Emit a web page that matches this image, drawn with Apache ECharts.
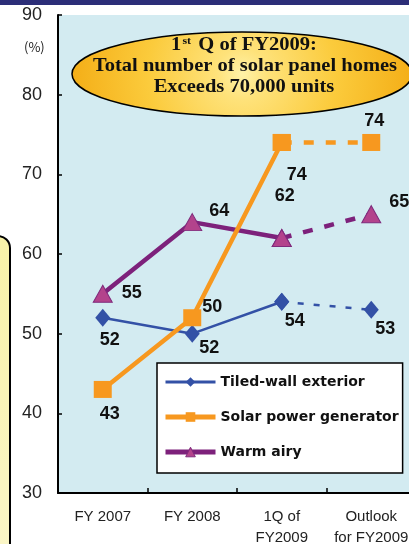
<!DOCTYPE html>
<html><head><meta charset="utf-8">
<script src="https://cdn.jsdelivr.net/npm/echarts@6/dist/echarts.min.js"></script>
<style>html,body{margin:0;padding:0;background:#fff;}#c{width:409px;height:544px;}</style>
</head><body><div id="c"></div>
<script>
const categories = ['FY 2007', 'FY 2008', '1Q of\nFY2009', 'Outlook\nfor FY2009'];
const seriesNames = ['Tiled-wall exterior', 'Solar power generator', 'Warm airy'];
const tiledWall = [52, 50, 54, 53];
const solarPower = [43, 52, 74, 74];
const warmAiry = [55, 64, 62, 65];
const tiledWallLabels = ['52', '52', '54', '53'];
const solarPowerLabels = ['43', '50', '74', '74'];
const warmAiryLabels = ['55', '64', '62', '65'];
const yMin = 30, yMax = 90, yStep = 10;

// label offsets (px) relative to each point
const offTiled = [[7, 22], [17, 14], [13, 19], [14, 19]];
const offSolar = [[7, 25], [20, -11], [15, 33], [3, -21]];
const offWarm = [[29, -1], [27, -11], [3, -42], [28, -12]];

const styles = {};
styles[seriesNames[0]] = { symbol: 'diamond', size: [15, 18], fill: '#3351a6', border: '#3351a6', bw: 0, line: '#3351a6', lw: 2.5, dash: [6, 10], z: 2, legW: 3 };
styles[seriesNames[2]] = { symbol: 'triangle', size: [19, 17], fill: '#b3438c', border: '#7f2a7c', bw: 1, line: '#7d217b', lw: 4.5, dash: [10, 12], z: 3, legW: 5 };
styles[seriesNames[1]] = { symbol: 'rect', size: [18, 17], fill: '#f7981f', border: '#f7981f', bw: 0, line: '#f7981f', lw: 4.5, dash: [10, 12], z: 4, legW: 5 };

function build(name, vals, labels, offs) {
  const st = styles[name];
  const lbl = (i) => ({ show: true, position: 'inside', offset: offs[i], formatter: labels[i],
    fontSize: 18, fontWeight: 'bold', fontFamily: 'Liberation Sans, Arial', color: '#111' });
  const solid = vals.map((v, i) => i <= 2 ? { value: v, label: lbl(i) } : '-');
  const dashed = vals.map((v, i) => i >= 2 ? { value: v, label: i === 3 ? lbl(i) : { show: false } } : '-');
  const common = {
    type: 'line', name: name, symbol: st.symbol, symbolSize: st.size,
    itemStyle: { color: st.fill, borderColor: st.border, borderWidth: st.bw },
    z: st.z, animation: false, connectNulls: false
  };
  return [
    Object.assign({}, common, { data: solid, lineStyle: { color: st.line, width: st.lw, type: 'solid' } }),
    Object.assign({}, common, { data: dashed, lineStyle: { color: st.line, width: st.lw, type: st.dash } })
  ];
}

const series = [].concat(
  build(seriesNames[0], tiledWall, tiledWallLabels, offTiled),
  build(seriesNames[2], warmAiry, warmAiryLabels, offWarm),
  build(seriesNames[1], solarPower, solarPowerLabels, offSolar)
);

const legendData = seriesNames.map(n => ({
  name: n,
  lineStyle: { width: styles[n].legW, color: styles[n].line, type: 'solid' },
  itemStyle: { color: styles[n].fill, borderColor: styles[n].border, borderWidth: styles[n].bw }
}));

const serif = 'Liberation Serif, Times New Roman';
const chart = echarts.init(document.getElementById('c'), null, { renderer: 'canvas' });
chart.setOption({
  animation: false,
  backgroundColor: '#ffffff',
  grid: { left: 58, top: 15, right: -7, bottom: 51, outerBoundsMode: 'none', show: true, backgroundColor: '#d3ebf1', borderWidth: 0, containLabel: false },
  xAxis: {
    type: 'category', data: categories, boundaryGap: true,
    axisLine: { show: true, lineStyle: { color: '#000', width: 2 } },
    axisTick: { show: true, inside: true, length: 5, lineStyle: { color: '#000', width: 1.5 } },
    axisLabel: { interval: 0, fontSize: 15, color: '#222', lineHeight: 21, margin: 13, fontFamily: 'Liberation Sans, Arial' }
  },
  yAxis: {
    type: 'value', min: yMin, max: yMax, interval: yStep,
    axisLine: { show: true, lineStyle: { color: '#000', width: 2 } },
    axisTick: { show: true, inside: true, length: 4, lineStyle: { color: '#000', width: 1.5 } },
    splitLine: { show: false },
    axisLabel: { fontSize: 18, color: '#222', margin: 16, fontFamily: 'Liberation Sans, Arial' }
  },
  legend: {
    data: legendData,
    orient: 'vertical', left: 157, top: 363,
    backgroundColor: '#ffffff', borderColor: '#000', borderWidth: 1.5,
    padding: [12, 4, 14, 6], itemGap: 21, itemWidth: 50, itemHeight: 12,
    textStyle: { fontSize: 14, fontWeight: 'bold', color: '#111', fontFamily: 'DejaVu Sans' }
  },
  graphic: [
    { type: 'rect', shape: { x: 0, y: 0, width: 409, height: 5 }, style: { fill: '#2c2e78' }, z: 10 },
    { type: 'rect', shape: { x: -30, y: 236, width: 40, height: 400, r: 12 },
      style: { fill: new echarts.graphic.LinearGradient(0, 0, 0, 1, [{ offset: 0, color: '#f8f2a8' }, { offset: 1, color: '#fbf7cf' }]), stroke: '#000', lineWidth: 2 }, z: 10 },
    { type: 'text', left: 24, top: 41, style: { text: '(%)', fontSize: 13, fill: '#222', fontFamily: 'Noto Sans CJK JP' }, z: 10 },
    { type: 'ellipse', shape: { cx: 242, cy: 74, rx: 170, ry: 42 },
      style: { fill: new echarts.graphic.RadialGradient(0.5, 0.5, 2, [{ offset: 0, color: '#fff2a8' }, { offset: 0.15, color: '#fee27a' }, { offset: 0.55, color: '#fbcb3c' }, { offset: 1, color: '#f4ae17' }]), stroke: '#000', lineWidth: 1.5 }, z: 20 },
    { type: 'text', x: 244, y: 45.5, z: 21, scaleX: 1.08,
      style: { text: '{a|1}{s|st}{a| Q of FY2009:}', align: 'center', verticalAlign: 'middle',
        rich: { a: { fontSize: 19, fontWeight: 'bold', fontFamily: serif, fill: '#111' },
                s: { fontSize: 11, fontWeight: 'bold', fontFamily: serif, fill: '#111', verticalAlign: 'top', padding: [0, 2, 8, 1] } } } },
    { type: 'text', x: 245, y: 66, z: 21, scaleX: 1.08,
      style: { text: 'Total number of solar panel homes', align: 'center', verticalAlign: 'middle', fontSize: 19, fontWeight: 'bold', fontFamily: serif, fill: '#111' } },
    { type: 'text', x: 244, y: 87.5, z: 21, scaleX: 1.08,
      style: { text: 'Exceeds 70,000 units', align: 'center', verticalAlign: 'middle', fontSize: 19, fontWeight: 'bold', fontFamily: serif, fill: '#111' } }
  ],
  series: series
});
</script></body></html>
